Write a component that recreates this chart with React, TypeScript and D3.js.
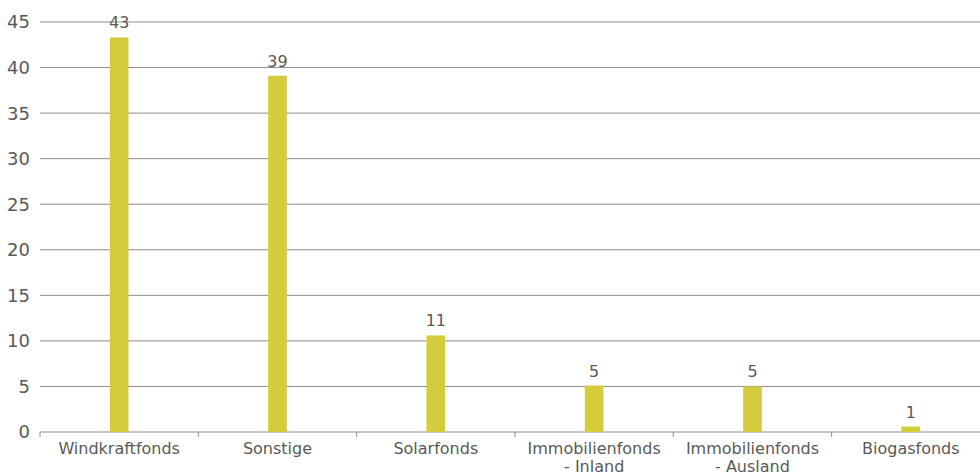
import { useMemo } from 'react';
import * as d3 from 'd3';

const categories = ['Windkraftfonds', 'Sonstige', 'Solarfonds', 'Immobilienfonds\n- Inland', 'Immobilienfonds\n- Ausland', 'Biogasfonds'];
const values = [43.3, 39.1, 10.6, 5.1, 5.0, 0.6];
const valueLabels = ['43', '39', '11', '5', '5', '1'];
const yTicks = [0, 5, 10, 15, 20, 25, 30, 35, 40, 45];

const W = 980;
const H = 475;
const BAR = '#d4cc3c';
const TEXT = '#595959';
const GRID = '#8c8c8c';
const FONT = 'Verdana, "DejaVu Sans", sans-serif';

const App: React.FC = () => {
    const margin = { top: 22, left: 40, bottom: 43 };

    const x = useMemo(() => d3.scaleBand<number>()
        .domain(d3.range(categories.length))
        .range([margin.left, margin.left + 158.33 * categories.length]), []);

    const y = useMemo(() => d3.scaleLinear()
        .domain([0, 45])
        .range([H - margin.bottom, margin.top]), []);

    const barW = 18.7;
    const y0 = y(0);

    return (
        <svg width={W} height={H} style={{ position: 'absolute', left: 0, top: 0, fontFamily: FONT }}>
            {yTicks.map(t => (
                <g key={t}>
                    {t > 0 && <line x1={margin.left} x2={W} y1={y(t)} y2={y(t)} stroke={GRID} strokeWidth={1} />}
                    <text x={30} y={y(t)} dy="0.36em" textAnchor="end" fontSize={18} fill={TEXT}>{t}</text>
                </g>
            ))}
            {/* x axis */}
            <line x1={margin.left} x2={W} y1={y0} y2={y0} stroke={GRID} strokeWidth={1} />
            {d3.range(categories.length + 1).map(i => {
                const xx = margin.left + x.bandwidth() * i;
                return <line key={i} x1={xx} x2={xx} y1={y0} y2={y0 + 5} stroke={GRID} strokeWidth={1} />;
            })}
            {values.map((v, i) => {
                const cx = x(i)! + x.bandwidth() / 2;
                return (
                    <g key={i}>
                        <rect x={cx - barW / 2} y={y(v)} width={barW} height={y0 - y(v)} fill={BAR} />
                        <text x={cx} y={y(v) - 9} textAnchor="middle" fontSize={16} fill={TEXT}>{valueLabels[i]}</text>
                    </g>
                );
            })}
            {categories.map((c, i) => {
                const cx = x(i)! + x.bandwidth() / 2;
                return (
                    <text key={c} x={cx} y={y0 + 22} textAnchor="middle" fontSize={16} fill={TEXT}>
                        {c.split('\n').map((line, j) => (
                            <tspan key={j} x={cx} dy={j === 0 ? 0 : 18}>{line}</tspan>
                        ))}
                    </text>
                );
            })}
        </svg>
    );
};

export default App;
